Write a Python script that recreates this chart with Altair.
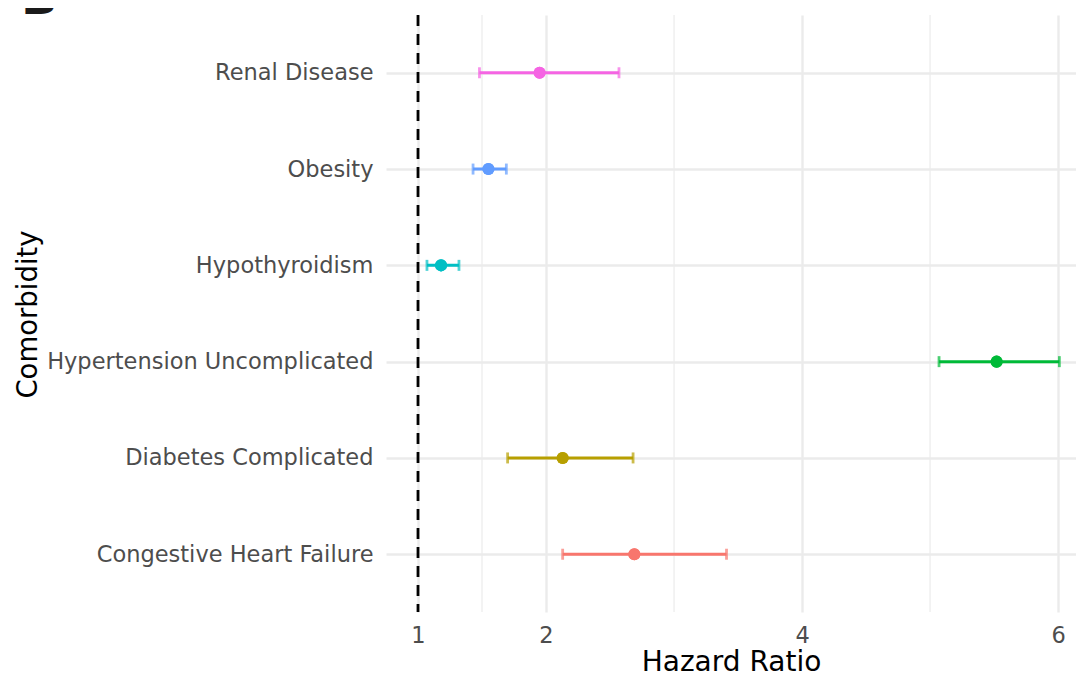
import altair as alt
import pandas as pd

# ---- data ----
comorbidity = [
    "Congestive Heart Failure",
    "Diabetes Complicated",
    "Hypertension Uncomplicated",
    "Hypothyroidism",
    "Obesity",
    "Renal Disease",
]
hazard_ratio = [2.69, 2.13, 5.52, 1.18, 1.55, 1.95]
ci_lower = [2.13, 1.70, 5.07, 1.07, 1.43, 1.48]
ci_upper = [3.41, 2.68, 6.01, 1.32, 1.69, 2.57]
colors = ["#F8766D", "#B79F00", "#00BA38", "#00BFC4", "#619CFF", "#F564E3"]

x_ticks = [1, 2, 4, 6]
x_minor = [1.5, 3, 5]
ref_line = [1]

df = pd.DataFrame({
    "Comorbidity": comorbidity,
    "HR": hazard_ratio,
    "lower": ci_lower,
    "upper": ci_upper,
})

FONT = "DejaVu Sans"
GRID = "#EBEBEB"

xscale = alt.Scale(domain=[0.75, 6.14], nice=False, zero=False)
order = list(reversed(comorbidity))
yenc = alt.Y(
    "Comorbidity:N",
    sort=order,
    scale=alt.Scale(type="point", padding=0.6),
    axis=alt.Axis(
        title="Comorbidity",
        grid=True, gridColor=GRID, gridWidth=2.4,
        domain=False, ticks=False,
        labelFontSize=22.5, labelColor="#4D4D4D", labelPadding=13, labelLimit=0,
        titleFontSize=27.5, titleColor="black", titleFontWeight="normal",
        titleAngle=270, titleX=-358, titleY=299,
        titleAlign="center", titleBaseline="middle",
    ),
)
colenc = alt.Color(
    "Comorbidity:N",
    scale=alt.Scale(domain=comorbidity, range=colors),
    legend=None,
)

minor = alt.Chart(pd.DataFrame({"v": x_minor})).mark_rule(
    color=GRID, strokeWidth=1.2
).encode(x=alt.X("v:Q", scale=xscale))

base_x = alt.X(
    "HR:Q",
    scale=xscale,
    axis=alt.Axis(
        title="Hazard Ratio",
        values=x_ticks,
        format="d",
        grid=True, gridColor=GRID, gridWidth=2.4,
        domain=False, ticks=False,
        labelFontSize=22.5, labelColor="#4D4D4D", labelPadding=12,
        titleFontSize=28, titleColor="black", titleFontWeight="normal",
        titlePadding=2,
    ),
)

bars = alt.Chart(df).mark_rule(strokeWidth=3).encode(
    x=alt.X("lower:Q", scale=xscale),
    x2="upper:Q",
    y=yenc,
    color=colenc,
)

cap_lo = alt.Chart(df).mark_tick(orient="vertical", size=11, thickness=2.8).encode(
    x=alt.X("lower:Q", scale=xscale), y=yenc, color=colenc
)
cap_hi = alt.Chart(df).mark_tick(orient="vertical", size=11, thickness=2.8).encode(
    x=alt.X("upper:Q", scale=xscale), y=yenc, color=colenc
)

points = alt.Chart(df).mark_circle(size=145, opacity=1).encode(
    x=base_x, y=yenc, color=colenc
)

vline = alt.Chart(pd.DataFrame({"v": ref_line})).mark_rule(
    color="black", strokeWidth=2.8, strokeDash=[11, 8]
).encode(x=alt.X("v:Q", scale=xscale))

panel_label = alt.Chart(pd.DataFrame({"t": ["B"]})).mark_text(
    font=FONT, fontSize=48, fontWeight="bold", color="#1a1a1a",
    align="left", baseline="alphabetic",
).encode(text="t:N", x=alt.value(-365), y=alt.value(-1))

chart = alt.layer(
    minor, points, bars, cap_lo, cap_hi, points, vline, panel_label
).properties(
    width=690,
    height=597,
    autosize=alt.AutoSizeParams(type="none"),
    padding={"left": 378, "top": 7, "right": 0, "bottom": 66},
).configure(
    font=FONT,
).configure_view(
    stroke=None,
)

chart.save("out.html", embed_options={"renderer": "svg", "actions": False})
